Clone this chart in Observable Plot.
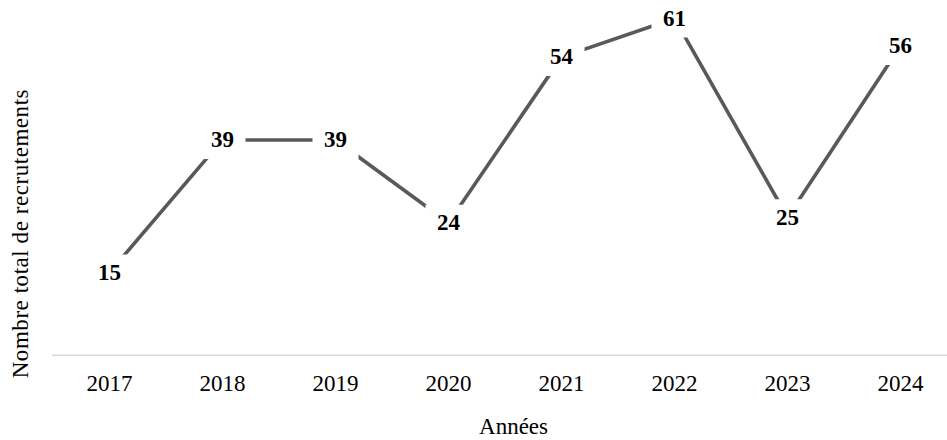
<!DOCTYPE html>
<html>
<head>
<meta charset="utf-8">
<script src="https://cdn.jsdelivr.net/npm/d3@7"></script>
<script src="https://cdn.jsdelivr.net/npm/@observablehq/plot@0.6"></script>
<style>
  html, body { margin: 0; padding: 0; background: #fff; }
  #chart svg { display: block; }
  #chart .y-title text { letter-spacing: 0.55px; }
</style>
</head>
<body>
<div id="chart"></div>
<script>
// Recrutements par année
const years = ["2017", "2018", "2019", "2020", "2021", "2022", "2023", "2024"];
const hires = [15, 39, 39, 24, 54, 61, 25, 56];
const xTitle = "Années";
const yTitle = "Nombre total de recrutements";

const data = years.map((year, i) => ({year, value: hires[i]}));

// White label background: a plain rectangle used as a dot symbol,
// so the line is interrupted around each value label.
const labelBox = {
  draw(context) {
    context.rect(-23, -18, 46, 37);
  }
};

const font = "'Liberation Serif', 'Times New Roman', serif";

const chart = Plot.plot({
  width: 947,
  height: 440,
  marginLeft: 52,
  marginRight: 0,
  marginTop: 1.4,
  marginBottom: 85.2,
  style: {fontFamily: font, background: "#fff"},
  x: {type: "point", domain: years, range: [108.3, 901.6], padding: 0, label: null},
  y: {domain: [0, 64], axis: null},
  marks: [
    Plot.ruleY([0], {stroke: "#d9d9d9", strokeWidth: 1.5}),
    Plot.axisX({tickSize: 0, tickPadding: 19, fontSize: 23, fill: "#000", label: null}),
    Plot.line(data, {x: "year", y: "value", stroke: "#595959", strokeWidth: 3.6}),
    Plot.dot(data, {x: "year", y: "value", symbol: labelBox, r: 10, fill: "#fff", stroke: null}),
    Plot.text(data, {x: "year", y: "value", text: d => String(d.value),
      fontSize: 23, fontWeight: "bold", fill: "#000"}),
    Plot.text([xTitle], {frameAnchor: "bottom", dx: 13.5, dy: 79, fontSize: 23, fill: "#000"}),
    Plot.text([yTitle], {frameAnchor: "left", textAnchor: "middle", rotate: -90, lineAnchor: "bottom",
      dx: -25, dy: 55, fontSize: 23, fill: "#000", className: "y-title"})
  ]
});

document.getElementById("chart").appendChild(chart);
</script>
</body>
</html>
